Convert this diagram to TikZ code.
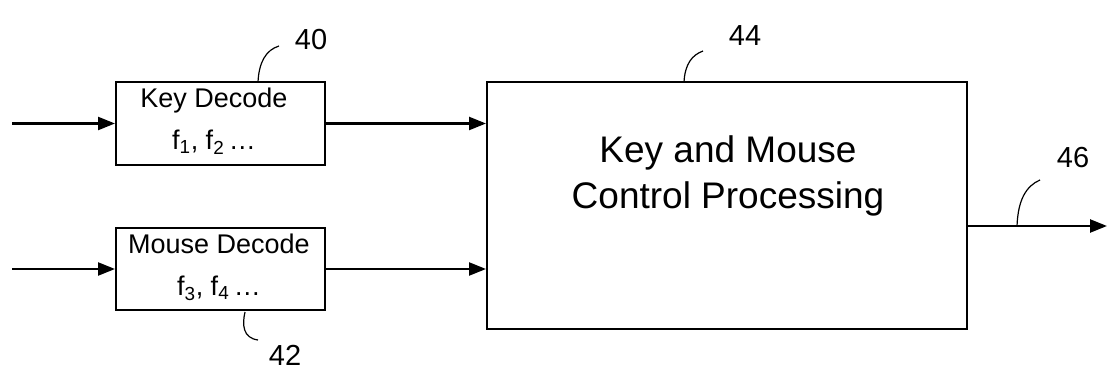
\documentclass[tikz,border=0pt]{standalone}
\usepackage{fontspec}
\setmainfont{Liberation Sans}
\usetikzlibrary{arrows.meta}
\begin{document}
\begin{tikzpicture}[x=1pt,y=-1pt,
  blk/.style={draw,line width=2pt,inner sep=0pt,align=center},
  conn/.style={line width=2.4pt,-{Triangle[length=17pt,width=13pt]}},
  lead/.style={line width=1.2pt},
  reflbl/.style={font=\fontsize{29}{32}\selectfont,inner sep=0pt},
  boxtext/.style={font=\fontsize{27}{42}\selectfont,align=center,inner sep=0pt},
  bigtext/.style={font=\fontsize{37}{46}\selectfont,align=center,inner sep=0pt}]
\useasboundingbox (0,0) rectangle (1107,371);
\fill[white] (0,0) rectangle (1107,371);
% blocks
\node[blk,minimum width=209pt,minimum height=83pt] (key) at (220.5,123.5) {};
\node[boxtext] (keytext) at (214,121) {Key Decode\\f\textsubscript{1}, f\textsubscript{2}\,\dots};
\node[blk,minimum width=209pt,minimum height=82pt] (mouse) at (220.5,269) {};
\node[boxtext] (mousetext) at (219,267) {Mouse Decode\\f\textsubscript{3}, f\textsubscript{4}\,\dots};
\node[blk,minimum width=480pt,minimum height=247pt] (proc) at (727,205.5) {};
\node[bigtext] (proctext) at (728,176) {Key and Mouse\\Control Processing};
% free ends
\coordinate (in0) at (12,123.5);
\coordinate (in1) at (12,269);
\coordinate (out) at (1107,226);
% connectors
\draw[conn] (in0) -- (key.west);
\draw[conn] (key.east) -- (proc.west |- key.east);
\draw[conn] (in1) -- (mouse.west);
\draw[conn] (mouse.east) -- (proc.west |- mouse.east);
\draw[conn] (proc.east |- out) -- (out);
% reference labels
\node[reflbl] (l40) at (311,40) {40};
\node[reflbl] (l44) at (745,36) {44};
\node[reflbl] (l46) at (1073,158) {46};
\node[reflbl] (l42) at (285,355) {42};
\coordinate (a40) at (258,82);
\coordinate (b40) at (279,46);
\coordinate (a44) at (684,82);
\coordinate (b44) at (703,51);
\coordinate (a46) at (1017,226);
\coordinate (b46) at (1040,180);
\coordinate (a42) at (245,312);
\coordinate (b42) at (258,340);
\draw[lead] (a40) .. controls (259,62) and (266,50) .. (b40);
\draw[lead] (a44) .. controls (685,64) and (692,55) .. (b44);
\draw[lead] (a46) .. controls (1018,200) and (1026,186) .. (b46);
\draw[lead] (a42) .. controls (242,325) and (243,338) .. (b42);
\end{tikzpicture}
\end{document}
